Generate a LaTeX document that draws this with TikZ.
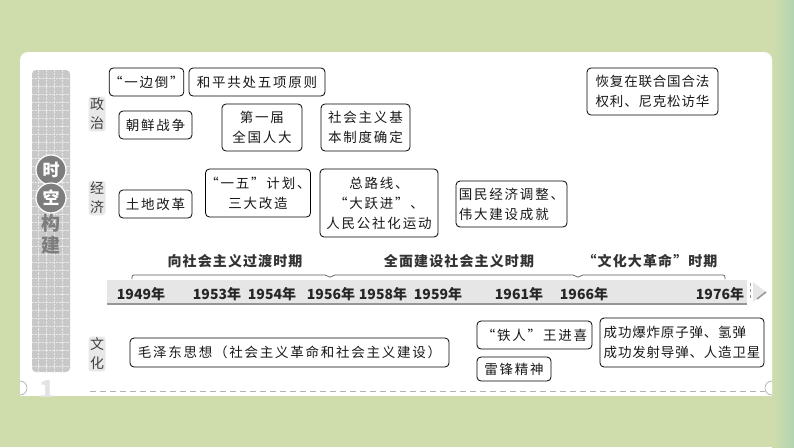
\documentclass[tikz,border=0pt]{standalone}
\usepackage{fontspec}
\setmainfont{Noto Sans CJK SC}
\newfontfamily\cjk[LetterSpace=13]{Noto Sans CJK SC}
\newfontfamily\cjkn[LetterSpace=6]{Noto Sans CJK SC}
\newfontfamily\cjkh[LetterSpace=8]{Noto Sans CJK SC}
\definecolor{bggreen}{RGB}{207,221,173}
\definecolor{bgteal}{RGB}{178,212,176}
\definecolor{stripgray}{RGB}{200,200,200}
\definecolor{circgray}{RGB}{125,125,125}
\definecolor{bargray}{RGB}{230,230,230}
\definecolor{shadowgray}{RGB}{150,150,150}
\definecolor{labelbg}{RGB}{232,232,232}
\tikzset{
  box/.style={draw=black, line width=0.8pt, rounded corners=4pt, fill=white, inner sep=0pt,
    font=\cjk\fontsize{13.5}{20}\selectfont, text=black!90},
  boxn/.style={box, font=\cjkn\fontsize{13.5}{20}\selectfont},
  cat/.style={fill=labelbg, rounded corners=3pt, inner sep=1.5pt, align=center,
    font=\cjkh\fontsize{14}{19}\selectfont, text=black!75},
  year/.style={font=\bfseries\fontsize{14}{16}\selectfont, text=black!85, inner sep=0pt},
  period/.style={font=\cjkh\bfseries\fontsize{14}{16}\selectfont, text=black!80, inner sep=0pt},
  circ/.style={circle, fill=circgray, draw=white, line width=1.2pt, minimum size=30pt, inner sep=0pt,
    text=white, font=\bfseries\fontsize{17}{17}\selectfont},
  vchar/.style={text=circgray, font=\bfseries\fontsize{19}{19}\selectfont, inner sep=0pt}
}
\begin{document}
\begin{tikzpicture}[x=1pt,y=-1pt]
\useasboundingbox (0,0) rectangle (794,447);
% background
\fill[bggreen] (0,0) rectangle (794,447);
\shade[left color=bggreen, right color=bgteal] (772,0) rectangle (794,447);
% panel
\fill[white, rounded corners=8pt] (20,420) -- (20,52) -- (772,52) -- (772,420) -- cycle;
\fill[bggreen] (0,396) rectangle (772,447);
\shade[left color=bggreen, right color=bgteal] (772,396) rectangle (794,447);
\draw[gray!70, line width=0.6pt] (20,395) arc[start angle=90,end angle=-90,radius=7];
\draw[gray!70, line width=0.6pt] (772,395) arc[start angle=90,end angle=270,radius=7];
% left strip
\fill[stripgray, rounded corners=4pt] (32,70) rectangle (70,372);
\begin{scope}
\clip[rounded corners=4pt] (32,70) rectangle (70,372);
\foreach \yy in {78,86,...,372} \draw[white!60!stripgray, line width=0.4pt, densely dotted] (32,\yy) -- (70,\yy);
\foreach \xx in {38,46,...,70} \draw[white!60!stripgray, line width=0.4pt, densely dotted] (\xx,70) -- (\xx,372);
\end{scope}
\node[circ] (shi) at (51,170) {时};
\node[circ] (kong) at (51,198) {空};
\node[vchar] (gou) at (51,223) {构};
\node[vchar] (jian) at (51,245) {建};
\begin{scope}
\clip (30,372) rectangle (70,396);
\node[text=gray!22, font=\bfseries\fontsize{26}{26}\selectfont, inner sep=0pt] (one) at (47,390) {1};
\end{scope}
% dashed line
\draw[gray!60, line width=0.6pt, dash pattern=on 6pt off 4pt] (90,391) coordinate (dl) -- (765,391) coordinate (dr);
% category labels
\node[cat] (zz) at (97,114) {政\\治};
\node[cat] (jj) at (97,198) {经\\济};
\node[cat] (wh) at (97,354) {文\\化};
% timeline bar
\fill[bargray] (107,280) rectangle (747,304);
\draw[shadowgray, line width=2pt] (107,304) -- (747,304);
\draw[shadowgray, line width=0.6pt, dashed] (750,283) -- (750,301);
\fill[bargray] (753,282) -- (766,292) -- (753,302) -- cycle;
\draw[shadowgray, line width=1.5pt] (757,299) -- (766,292);
% braces
\draw[black!65, line width=0.7pt, rounded corners=2pt]
  (132,279) |- (327,275) -- (330,278) -- (333,275) -- (575,275) -- (578,278) -- (581,275) -| (725,279);
% period labels
\node[period] (p1) at (235,261) {向社会主义过渡时期};
\node[period] (p2) at (459,261) {全面建设社会主义时期};
\node[period] (p3) at (650,261) {“文化大革命”时期};
% years
\node[year] (y49) at (141,294) {1949年};
\node[year] (y53) at (217,294) {1953年};
\node[year] (y54) at (272,294) {1954年};
\node[year] (y56) at (331,294) {1956年};
\node[year] (y58) at (383,294) {1958年};
\node[year] (y59) at (438,294) {1959年};
\node[year] (y61) at (519,294) {1961年};
\node[year] (y66) at (584,294) {1966年};
\node[year] (y76) at (720,294) {1976年};
% politics
\node[box, minimum width=73pt, minimum height=28pt] (b1) at (146.5,82) {“一边倒”};
\node[box, minimum width=136pt, minimum height=28pt] (b2) at (257,82) {和平共处五项原则};
\node[box, minimum width=73pt, minimum height=28pt] (b3) at (155.5,125) {朝鲜战争};
\node[box, minimum width=80pt, minimum height=47pt, align=center] (b4) at (262,127.5) {第一届\\全国人大};
\node[box, minimum width=89pt, minimum height=47pt, align=left] (b5) at (365.5,127.5) {社会主义基\\本制度确定};
\node[boxn, minimum width=131pt, minimum height=47pt, align=left] (b6) at (652.5,91.5) {恢复在联合国合法\\权利、尼克松访华};
% economy
\node[box, minimum width=73pt, minimum height=28pt] (b7) at (155.5,204) {土地改革};
\node[box, minimum width=100pt, minimum height=48pt, align=center] (b8) at (258,193) {“一五”计划、\\三大改造};
\node[box, minimum width=118pt, minimum height=68pt, align=center] (b9) at (379,203) {总路线、\\“大跃进”、\\人民公社化运动};
\node[box, minimum width=111pt, minimum height=46pt, align=left] (b10) at (511.5,204) {国民经济调整、\\伟大建设成就};
% culture
\node[box, minimum width=319pt, minimum height=29pt] (c1) at (289.5,352.5) {毛泽东思想（社会主义革命和社会主义建设）};
\node[box, minimum width=115pt, minimum height=28pt] (c2) at (534.5,335) {“铁人”王进喜};
\node[box, minimum width=74pt, minimum height=24pt] (c3) at (514,369) {雷锋精神};
\node[boxn, minimum width=164pt, minimum height=49pt, align=left] (c4) at (682,342.5) {成功爆炸原子弹、氢弹\\成功发射导弹、人造卫星};
\end{tikzpicture}
\end{document}
